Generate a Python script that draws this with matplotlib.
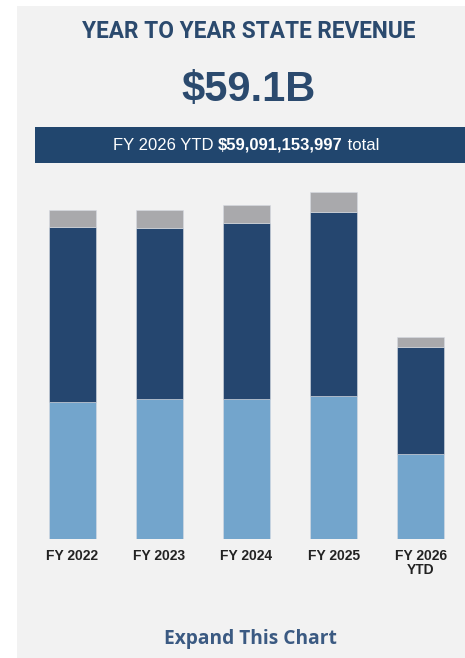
import matplotlib
matplotlib.use("Agg")
import matplotlib.pyplot as plt
from matplotlib.patches import Rectangle
import numpy as np

# Data (billions of dollars)
years = ["FY 2022", "FY 2023", "FY 2024", "FY 2025", "FY 2026\nYTD"]
light_part = [40.2, 41.0, 41.0, 41.9, 24.9]
dark_part = [51.1, 49.9, 51.3, 53.8, 31.2]
gray_part = [5.0, 5.4, 5.3, 5.7, 3.0]

title = "YEAR TO YEAR STATE REVENUE"
big_number = "$59.1B"
banner_parts = [("FY 2026 YTD ", "normal"), ("$59,091,153,997", "bold"), (" total", "normal")]
link_text = "Expand This Chart"

W, H = 465, 658
fig = plt.figure(figsize=(W / 100, H / 100), dpi=100, facecolor="white")


def fx(x):
    return x / W


def fy(y):
    return 1 - y / H


# gray panel + dark banner
fig.patches.append(Rectangle((fx(16.5), 0), 1 - fx(16.5), fy(6), transform=fig.transFigure,
                             facecolor="#f2f2f2", edgecolor="none", zorder=-5))
fig.patches.append(Rectangle((fx(35), fy(163)), 1 - fx(35), (163 - 127) / H, transform=fig.transFigure,
                             facecolor="#21466e", edgecolor="none", zorder=-4))

fig.text(fx(249), fy(32), title, ha="center", va="center", fontsize=16.3, fontweight="bold",
         family="Roboto", color="#2b4a6e")
fig.text(fx(249), fy(90), big_number, ha="center", va="center", fontsize=30, fontweight="bold",
         family="Liberation Sans", color="#2b4a6e")

# banner text with mixed weights, centered
renderer = fig.canvas.get_renderer()
pieces = []
for s, w in banner_parts:
    t = fig.text(0, fy(145), s, ha="left", va="center", fontsize=12, fontweight=w,
                 family="Liberation Sans", color="white", zorder=3)
    pieces.append(t)
widths = [t.get_window_extent(renderer).width for t in pieces]
x0 = 246 - sum(widths) / 2
for t, wd in zip(pieces, widths):
    t.set_x(fx(x0))
    x0 += wd

# chart axes: baseline at y=539 px, 202 px = 59.1B
px_per_b = 202 / 59.09
ymax = 110
ax_left, ax_right = 28.8, 464.2
ax = fig.add_axes([fx(ax_left), fy(539), (ax_right - ax_left) / W, ymax * px_per_b / H])
ax.patch.set_visible(False)

x = np.arange(len(years))
bw = 0.537
edge = dict(edgecolor="#d6dbe2", linewidth=0.4)
ax.bar(x, light_part, bw, color="#73a5cc", **edge)
ax.bar(x, dark_part, bw, bottom=light_part, color="#25466f", **edge)
ax.bar(x, gray_part, bw, bottom=np.add(light_part, dark_part), color="#a9a9ac", **edge)

ax.set_xlim(-0.5, len(years) - 0.5)
ax.set_ylim(0, ymax)
ax.set_yticks([])
ax.set_xticks(x)
ax.set_xticklabels(years, fontsize=10, fontweight="bold", family="Liberation Sans",
                   color="#222222", linespacing=1.0)
ax.tick_params(axis="x", length=0, pad=7)
for sp in ax.spines.values():
    sp.set_visible(False)

fig.text(fx(250), fy(639), link_text, ha="center", va="center", fontsize=13.8, fontweight="bold",
         family="Open Sans", color="#3b5a82")

fig.savefig("out.png", dpi=100, facecolor="white")
